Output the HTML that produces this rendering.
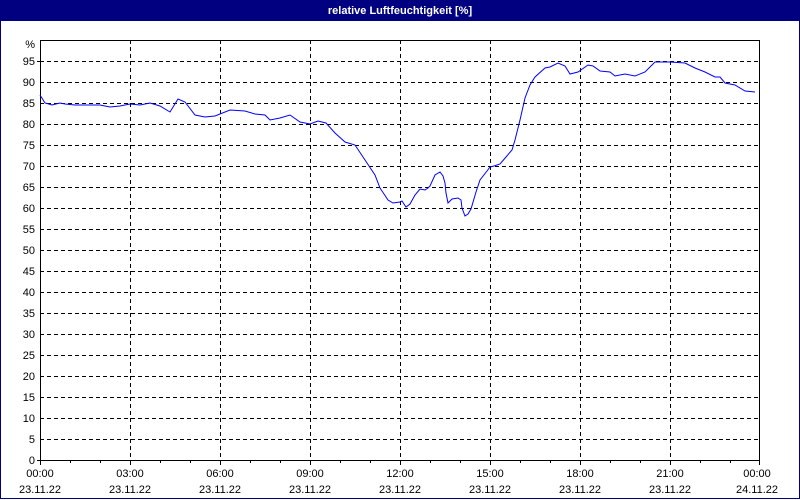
<!DOCTYPE html>
<html><head><style>
html,body{margin:0;padding:0;width:800px;height:500px;overflow:hidden;background:#fff}
</style></head><body>
<svg width="800" height="500" xmlns="http://www.w3.org/2000/svg" font-family="Liberation Sans, sans-serif" font-size="11">
<rect x="0" y="0" width="800" height="500" fill="#fff"/>
<rect x="0" y="0" width="800" height="20" fill="#000080"/>
<text x="400" y="14" fill="#fff" font-weight="bold" text-anchor="middle">relative Luftfeuchtigkeit [%]</text>
<rect x="0.5" y="20.5" width="799" height="478" fill="none" stroke="#000080" stroke-width="1"/>
<g stroke="#000" stroke-width="1" stroke-dasharray="4,3" shape-rendering="crispEdges">
<line x1="40" y1="61.5" x2="760" y2="61.5"/><line x1="40" y1="82.5" x2="760" y2="82.5"/><line x1="40" y1="103.5" x2="760" y2="103.5"/><line x1="40" y1="124.5" x2="760" y2="124.5"/><line x1="40" y1="145.5" x2="760" y2="145.5"/><line x1="40" y1="166.5" x2="760" y2="166.5"/><line x1="40" y1="187.5" x2="760" y2="187.5"/><line x1="40" y1="208.5" x2="760" y2="208.5"/><line x1="40" y1="229.5" x2="760" y2="229.5"/><line x1="40" y1="250.5" x2="760" y2="250.5"/><line x1="40" y1="271.5" x2="760" y2="271.5"/><line x1="40" y1="292.5" x2="760" y2="292.5"/><line x1="40" y1="313.5" x2="760" y2="313.5"/><line x1="40" y1="334.5" x2="760" y2="334.5"/><line x1="40" y1="355.5" x2="760" y2="355.5"/><line x1="40" y1="376.5" x2="760" y2="376.5"/><line x1="40" y1="397.5" x2="760" y2="397.5"/><line x1="40" y1="418.5" x2="760" y2="418.5"/><line x1="40" y1="439.5" x2="760" y2="439.5"/>
<line x1="130.5" y1="40" x2="130.5" y2="460"/><line x1="220.5" y1="40" x2="220.5" y2="460"/><line x1="310.5" y1="40" x2="310.5" y2="460"/><line x1="400.5" y1="40" x2="400.5" y2="460"/><line x1="490.5" y1="40" x2="490.5" y2="460"/><line x1="580.5" y1="40" x2="580.5" y2="460"/><line x1="670.5" y1="40" x2="670.5" y2="460"/>
</g>
<rect x="40.5" y="40.5" width="719" height="420" fill="none" stroke="#000" shape-rendering="crispEdges"/>
<g stroke="#000" shape-rendering="crispEdges">
<line x1="37" y1="61.5" x2="40" y2="61.5"/><line x1="37" y1="460.5" x2="40" y2="460.5"/>
<path d="M40.5 460v5M70.5 460v3M100.5 460v3M130.5 460v5M160.5 460v3M190.5 460v3M220.5 460v5M250.5 460v3M280.5 460v3M310.5 460v5M340.5 460v3M370.5 460v3M400.5 460v5M430.5 460v3M460.5 460v3M490.5 460v5M520.5 460v3M550.5 460v3M580.5 460v5M610.5 460v3M640.5 460v3M670.5 460v5M700.5 460v3M730.5 460v3M759.5 460v5"/>
</g>
<g text-anchor="end" fill="#000">
<text x="35" y="48">%</text><text x="35" y="65">95</text><text x="35" y="86">90</text><text x="35" y="107">85</text><text x="35" y="128">80</text><text x="35" y="149">75</text><text x="35" y="170">70</text><text x="35" y="191">65</text><text x="35" y="212">60</text><text x="35" y="233">55</text><text x="35" y="254">50</text><text x="35" y="275">45</text><text x="35" y="296">40</text><text x="35" y="317">35</text><text x="35" y="338">30</text><text x="35" y="359">25</text><text x="35" y="380">20</text><text x="35" y="401">15</text><text x="35" y="422">10</text><text x="35" y="443">5</text><text x="35" y="464">0</text>
</g>
<g text-anchor="middle" fill="#000">
<text x="40" y="477">00:00</text><text x="40" y="493">23.11.22</text>
<text x="130" y="477">03:00</text><text x="130" y="493">23.11.22</text>
<text x="220" y="477">06:00</text><text x="220" y="493">23.11.22</text>
<text x="310" y="477">09:00</text><text x="310" y="493">23.11.22</text>
<text x="400" y="477">12:00</text><text x="400" y="493">23.11.22</text>
<text x="490" y="477">15:00</text><text x="490" y="493">23.11.22</text>
<text x="580" y="477">18:00</text><text x="580" y="493">23.11.22</text>
<text x="670" y="477">21:00</text><text x="670" y="493">23.11.22</text>
<text x="757" y="477">00:00</text><text x="757" y="493">24.11.22</text>
</g>
<polyline fill="none" stroke="#0000ff" stroke-width="1" points="40,95 45,103 52,105 60,103 65,104 75,105 100,105 110,107 120,106 130,104 140,105 150,103 160,106 170,112 178,99 185,102 195,115 205,117 215,116 230,110 245,111 255,114 265,115 270,120 280,118 290,115 300,122 310,124 318,121 326,123 335,133 345,142 355,145 365,160 375,175 380,188 388,200 393,203 400,202 402,201 406,207 410,204 415,195 420,189 425,190 428,188 430,186 435,175 440,172 443,176 445,183 446,193 448,203 452,199 458,198 461,200 462,208 465,216 468,214 471,209 476,192 480,180 487,171 490,167 494,166 500,164 506,157 512,150 515,140 520,120 525,98 530,85 535,77 545,68 550,67 558,63 565,66 570,74 578,72 588,65 593,66 600,71 610,72 615,76 625,74 635,76 645,72 655,62 670,62 685,63 695,68 705,72 715,77 720,77 725,83 735,85 745,91 755,92"/>
</svg>
</body></html>
